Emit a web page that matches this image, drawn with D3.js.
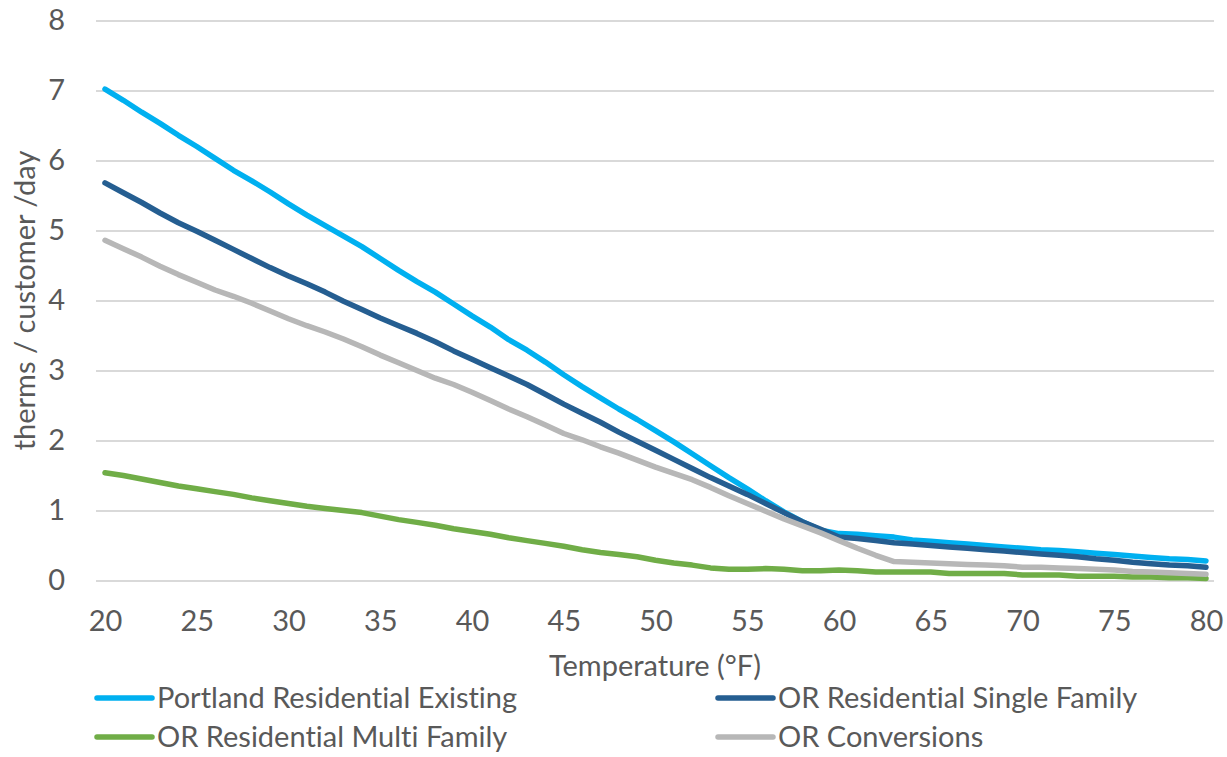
<!DOCTYPE html>
<html>
<head>
<meta charset="utf-8">
<script src="https://cdn.jsdelivr.net/npm/d3@7"></script>
<style>
  html, body { margin: 0; padding: 0; background: #fff; }
  svg { display: block; }
  text { font-family: Lato, "Open Sans", sans-serif; fill: #595959; font-variant-ligatures: none; font-feature-settings: "liga" 0, "clig" 0; }
</style>
</head>
<body>
<svg id="chart" width="1227" height="757"></svg>
<script>
const temperatures = d3.range(20, 81); // 20..80 °F, one point per degree
const yTicks = [0, 1, 2, 3, 4, 5, 6, 7, 8];
const xTicks = [20, 25, 30, 35, 40, 45, 50, 55, 60, 65, 70, 75, 80];

const seriesNames = [
  "Portland Residential Existing",
  "OR Residential Single Family",
  "OR Residential Multi Family",
  "OR Conversions"
];

const portlandExisting = [
  7.02, 6.86, 6.69, 6.53, 6.36, 6.20, 6.03, 5.86, 5.71, 5.55,
  5.38, 5.22, 5.07, 4.92, 4.77, 4.60, 4.43, 4.27, 4.12, 3.95,
  3.78, 3.62, 3.44, 3.29, 3.12, 2.94, 2.77, 2.61, 2.45, 2.30,
  2.14, 1.98, 1.81, 1.64, 1.47, 1.31, 1.14, 0.98, 0.84, 0.72,
  0.67, 0.66, 0.64, 0.62, 0.58, 0.56, 0.54, 0.52, 0.50, 0.48,
  0.46, 0.44, 0.43, 0.41, 0.39, 0.37, 0.35, 0.33, 0.31, 0.30,
  0.28
];
const singleFamily = [
  5.68, 5.54, 5.40, 5.25, 5.11, 4.99, 4.86, 4.73, 4.60, 4.47,
  4.35, 4.24, 4.12, 3.99, 3.87, 3.75, 3.64, 3.53, 3.41, 3.28,
  3.16, 3.04, 2.92, 2.80, 2.66, 2.52, 2.39, 2.26, 2.12, 1.99,
  1.86, 1.73, 1.60, 1.47, 1.35, 1.23, 1.10, 0.97, 0.84, 0.73,
  0.62, 0.60, 0.57, 0.54, 0.52, 0.50, 0.48, 0.46, 0.44, 0.42,
  0.40, 0.38, 0.36, 0.34, 0.31, 0.29, 0.26, 0.24, 0.22, 0.21,
  0.19
];
const multiFamily = [
  1.54, 1.50, 1.45, 1.40, 1.35, 1.31, 1.27, 1.23, 1.18, 1.14,
  1.10, 1.06, 1.03, 1.00, 0.97, 0.92, 0.87, 0.83, 0.79, 0.74,
  0.70, 0.66, 0.61, 0.57, 0.53, 0.49, 0.44, 0.40, 0.37, 0.34,
  0.29, 0.25, 0.22, 0.18, 0.16, 0.16, 0.17, 0.16, 0.14, 0.14,
  0.15, 0.14, 0.12, 0.12, 0.12, 0.12, 0.10, 0.10, 0.10, 0.10,
  0.08, 0.08, 0.08, 0.06, 0.06, 0.06, 0.05, 0.05, 0.04, 0.04,
  0.03
];
const conversions = [
  4.86, 4.74, 4.62, 4.49, 4.37, 4.26, 4.15, 4.06, 3.96, 3.85,
  3.74, 3.64, 3.55, 3.45, 3.34, 3.22, 3.11, 3.00, 2.89, 2.80,
  2.69, 2.57, 2.45, 2.34, 2.22, 2.10, 2.01, 1.91, 1.82, 1.72,
  1.62, 1.53, 1.44, 1.33, 1.21, 1.10, 0.99, 0.88, 0.78, 0.68,
  0.57, 0.46, 0.36, 0.27, 0.26, 0.25, 0.24, 0.23, 0.22, 0.21,
  0.19, 0.19, 0.18, 0.17, 0.16, 0.15, 0.13, 0.12, 0.11, 0.10,
  0.09
];
const seriesColors = ["#00B0F0", "#255E91", "#70AD47", "#B7B7B7"];

const series = [portlandExisting, singleFamily, multiFamily, conversions].map((vals, i) => ({
  name: seriesNames[i],
  color: seriesColors[i],
  values: temperatures.map((t, j) => ({ t, v: vals[j] }))
}));

const svg = d3.select("#chart");
svg.append("rect").attr("width", 1227).attr("height", 757).attr("fill", "#fff");

const plot = { left: 96, right: 1214, top: 20.5, bottom: 580.5 };
const x = d3.scaleLinear().domain([20, 80]).range([105, 1206]);
const y = d3.scaleLinear().domain([0, 8]).range([plot.bottom, plot.top]);

// gridlines + y labels
const yAxis = svg.append("g")
  .attr("transform", `translate(${plot.left},0)`)
  .call(d3.axisLeft(y).tickValues(yTicks).tickSize(-(plot.right - plot.left)).tickPadding(31).tickFormat(d3.format("d")));
yAxis.select(".domain").remove();
yAxis.selectAll(".tick line").attr("stroke", "#D9D9D9").attr("stroke-width", 2);
yAxis.selectAll(".tick text").attr("font-size", 29).attr("fill", "#595959")
  .attr("font-family", "Lato, 'Open Sans', sans-serif");

// x labels
const xAxis = svg.append("g")
  .attr("transform", `translate(0,${plot.bottom})`)
  .call(d3.axisBottom(x).tickValues(xTicks).tickSize(0).tickPadding(30).tickFormat(d3.format("d")));
xAxis.select(".domain").remove();
xAxis.selectAll(".tick text").attr("font-size", 29).attr("fill", "#595959")
  .attr("font-family", "Lato, 'Open Sans', sans-serif");

// lines
const line = d3.line().x(d => x(d.t)).y(d => y(d.v)).curve(d3.curveLinear);
svg.append("g").selectAll("path").data(series).join("path")
  .attr("d", d => line(d.values))
  .attr("fill", "none")
  .attr("stroke", d => d.color)
  .attr("stroke-width", 5.5)
  .attr("stroke-linejoin", "round")
  .attr("stroke-linecap", "round");

// axis titles
svg.append("text")
  .attr("x", (plot.left + plot.right) / 2).attr("y", 676)
  .attr("text-anchor", "middle").attr("font-size", 29)
  .text("Temperature (°F)");
svg.append("text")
  .attr("transform", `translate(35,${(plot.top + plot.bottom) / 2}) rotate(-90)`)
  .attr("text-anchor", "middle").attr("font-size", 29)
  .text("therms / customer /day");

// legend
const legendPos = [
  { lx: 97, ly: 698, tx: 157, ty: 708 },
  { lx: 718, ly: 698, tx: 778, ty: 708 },
  { lx: 97, ly: 737, tx: 157, ty: 747 },
  { lx: 718, ly: 737, tx: 778, ty: 747 }
];
const legend = svg.append("g");
series.forEach((s, i) => {
  const p = legendPos[i];
  legend.append("line")
    .attr("x1", p.lx).attr("x2", p.lx + 55).attr("y1", p.ly).attr("y2", p.ly)
    .attr("stroke", s.color).attr("stroke-width", 5.5).attr("stroke-linecap", "round");
  legend.append("text").attr("x", p.tx).attr("y", p.ty).attr("font-size", 29).text(s.name);
});
</script>
</body>
</html>
